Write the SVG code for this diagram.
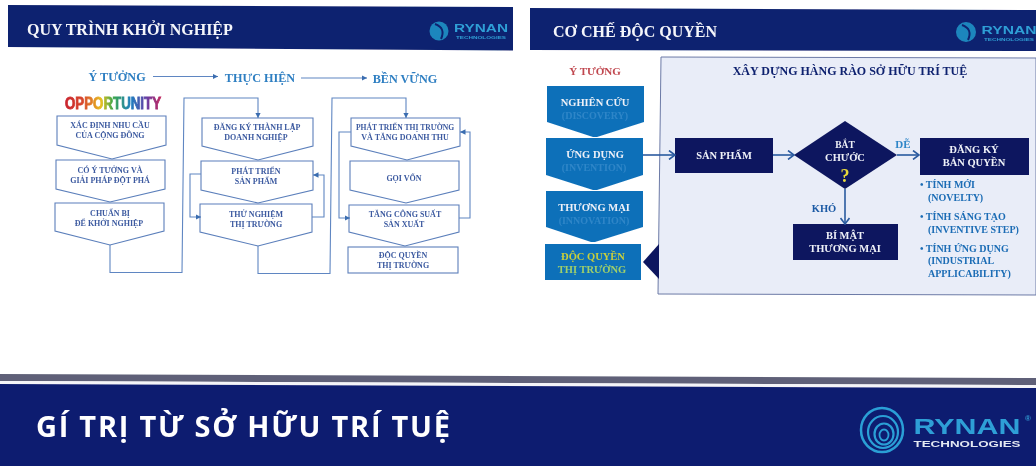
<svg xmlns="http://www.w3.org/2000/svg" width="1036" height="466" viewBox="0 0 1036 466">
<style>
text{font-family:"Liberation Serif","Noto Sans",serif;font-weight:bold;text-anchor:middle}
.hd{fill:#f4f6fb;font-size:16px;text-anchor:start}
.top{fill:#2f7fc2;font-size:12.200px}
.flow{fill:#fff;stroke:#5b7fbb;stroke-width:1.1}
.ft{fill:#3c5aa0;font-size:8px}
.lnk{fill:none;stroke:#5f86c2;stroke-width:1.1}
.lnk2{fill:none;stroke:#2a5a9f;stroke-width:1.6}
.nv{fill:#10185f}
.wt{fill:#eef1f8;font-size:10.500px}
.blue{fill:#0f70b9}
.sub{fill:#2f86c8;font-size:10px}
.bl{fill:#1b6cb5;font-size:10px;text-anchor:start}
.rn{font-family:"Liberation Sans",sans-serif;fill:#2f9fd6}
.sans{font-family:"Liberation Sans",sans-serif}
.title{font-family:"Open Sans","Liberation Sans",sans-serif;fill:#fff;font-size:29px}
.ring{fill:none;stroke:#2a9fd6}
</style>
<defs>
<marker id="a" markerWidth="6" markerHeight="6" refX="5" refY="3" orient="auto"><path d="M0,0.4 L5,3 L0,5.6Z" fill="#3a6db0"/></marker>
<marker id="o" markerWidth="8" markerHeight="10" refX="7" refY="5" orient="auto" markerUnits="userSpaceOnUse"><path d="M1,0.5 L7,5 L1,9.5" fill="none" stroke="#2a5a9f" stroke-width="1.6"/></marker>
<linearGradient id="rb" gradientUnits="userSpaceOnUse" x1="64" y1="0" x2="162" y2="0">
<stop offset="0" stop-color="#c8202e"/><stop offset="0.2" stop-color="#d8482a"/><stop offset="0.38" stop-color="#e8c020"/><stop offset="0.5" stop-color="#3aa648"/><stop offset="0.68" stop-color="#1f7fc0"/><stop offset="0.85" stop-color="#6a3aa0"/><stop offset="1" stop-color="#c8285a"/>
</linearGradient>
<filter id="soft" x="-2%" y="-2%" width="104%" height="104%"><feGaussianBlur stdDeviation="0.35"/></filter>
</defs>
<rect width="1036" height="466" fill="#fff"/>
<g filter="url(#soft)">

<g id="header-left">
<polygon points="8,5 513,7 513,50.500 8,47" fill="#10226f"/>
<text class="hd" x="27" y="35">QUY TRÌNH KHỞI NGHIỆP</text>
<circle cx="439" cy="31" r="9.500" fill="#1f86bd"/>
<path d="M435,24 Q446,28 441,39" fill="none" stroke="#10226f" stroke-width="2"/>
<text class="rn" x="481" y="32" font-size="11" textLength="54" lengthAdjust="spacingAndGlyphs">RYNAN</text>
<text class="rn" x="481" y="38.500" font-size="3.500" textLength="50" lengthAdjust="spacingAndGlyphs">TECHNOLOGIES</text>
</g>

<g id="header-right">
<polygon points="530,8 1036,10 1036,51 530,50" fill="#10226f"/>
<text class="hd" x="553" y="37">CƠ CHẾ ĐỘC QUYỀN</text>
<circle cx="966" cy="32" r="10" fill="#1f86bd"/>
<path d="M962,25 Q973,29 968,40" fill="none" stroke="#10226f" stroke-width="2"/>
<text class="rn" x="1009" y="34" font-size="11" textLength="55" lengthAdjust="spacingAndGlyphs">RYNAN</text>
<text class="rn" x="1009" y="40.500" font-size="3.500" textLength="50" lengthAdjust="spacingAndGlyphs">TECHNOLOGIES</text>
</g>

<g id="stage-labels">
<text class="top" x="117" y="81">Ý TƯỞNG</text>
<text class="top" x="260" y="82">THỰC HIỆN</text>
<text class="top" x="405" y="83">BỀN VỮNG</text>
<text class="sans" x="113" y="109" font-size="16" fill="url(#rb)" stroke="url(#rb)" stroke-width="0.8" textLength="96" lengthAdjust="spacingAndGlyphs">OPPORTUNITY</text>
</g>

<g id="f1-1"><polygon class="flow" points="57,116 166,116 166,145 112,159 57,145"/><text class="ft" x="110" y="128">XÁC ĐỊNH NHU CẦU</text><text class="ft" x="110" y="138">CỦA CỘNG ĐỒNG</text></g>
<g id="f1-2"><polygon class="flow" points="56,160 165,160 165,189 110,202 56,189"/><text class="ft" x="110" y="173">CÓ Ý TƯỞNG VÀ</text><text class="ft" x="110" y="183">GIẢI PHÁP ĐỘT PHÁ</text></g>
<g id="f1-3"><polygon class="flow" points="55,203 164,203 164,231 110,245 55,231"/><text class="ft" x="110" y="216">CHUẨN BỊ</text><text class="ft" x="109" y="226">ĐỂ KHỞI NGHIỆP</text></g>

<g id="f2-1"><polygon class="flow" points="202,118 313,118 313,146 258,160 202,146"/><text class="ft" x="257" y="130">ĐĂNG KÝ THÀNH LẬP</text><text class="ft" x="256" y="140">DOANH NGHIỆP</text></g>
<g id="f2-2"><polygon class="flow" points="201,161 313,161 313,190 258,203 201,190"/><text class="ft" x="256" y="174">PHÁT TRIỂN</text><text class="ft" x="256" y="184">SẢN PHẨM</text></g>
<g id="f2-3"><polygon class="flow" points="200,204 312,204 312,232 258,246 200,232"/><text class="ft" x="256" y="217">THỬ NGHIỆM</text><text class="ft" x="256" y="227">THỊ TRƯỜNG</text></g>

<g id="f3-1"><polygon class="flow" points="351,118 460,118 460,146 407,160 351,146"/><text class="ft" x="405" y="130" style="font-size:7.600px">PHÁT TRIỂN THỊ TRƯỜNG</text><text class="ft" x="405" y="140">VÀ TĂNG DOANH THU</text></g>
<g id="f3-2"><polygon class="flow" points="350,161 459,161 459,190 406,203 350,190"/><text class="ft" x="404" y="181">GỌI VỐN</text></g>
<g id="f3-3"><polygon class="flow" points="349,205 459,205 459,232 405,246 349,232"/><text class="ft" x="405" y="217">TĂNG CÔNG SUẤT</text><text class="ft" x="404" y="227">SẢN XUẤT</text></g>
<g id="f3-4"><rect class="flow" x="348" y="247" width="110" height="26"/><text class="ft" x="403" y="258">ĐỘC QUYỀN</text><text class="ft" x="403" y="268">THỊ TRƯỜNG</text></g>

<g id="panel">
<polygon points="661,57 1036,58 1036,295 658,294" fill="#e9edf8" stroke="#6c7aa6" stroke-width="1"/>
<text x="850" y="75" fill="#10226f" style="font-size:12px">XÂY DỰNG HÀNG RÀO SỞ HỮU TRÍ TUỆ</text>
<polygon class="nv" points="643,262 659,244 659,279"/>
</g>

<text x="595" y="75" fill="#c0474f" style="font-size:11px">Ý TƯỞNG</text>

<g id="s1"><polygon class="blue" points="547,86 644,86 644,122 597,137 593,137 547,122"/><text class="wt" x="595" y="106">NGHIÊN CỨU</text><text class="sub" x="595" y="119">(DISCOVERY)</text></g>
<g id="s2"><polygon class="blue" points="546,138 643,138 643,175 597,190 593,190 546,175"/><text class="wt" x="595" y="158">ỨNG DỤNG</text><text class="sub" x="594" y="171">(INVENTION)</text></g>
<g id="s3"><polygon class="blue" points="546,191 643,191 643,227 595,242 591,242 546,227"/><text class="wt" x="594" y="211">THƯƠNG MẠI</text><text class="sub" x="594" y="224">(INNOVATION)</text></g>
<g id="s4"><rect class="blue" x="545" y="244" width="96" height="36"/><text x="593" y="260" fill="#c9cf3a" style="font-size:10.500px">ĐỘC QUYỀN</text><text x="592" y="273" fill="#9fd06a" style="font-size:10.500px">THỊ TRƯỜNG</text></g>

<g id="san-pham"><rect class="nv" x="675" y="138" width="98" height="35"/><text class="wt" x="724" y="159">SẢN PHẨM</text></g>
<g id="bat-chuoc"><polygon class="nv" points="794,155 845,121 897,155 845,189"/><text class="wt" x="845" y="148" style="font-size:9.500px">BẮT</text><text class="wt" x="845" y="161">CHƯỚC</text><text x="845" y="182" fill="#e8d93a" style="font-size:18px">?</text></g>
<g id="dang-ky"><rect class="nv" x="920" y="138" width="109" height="37"/><text class="wt" x="974" y="153">ĐĂNG KÝ</text><text class="wt" x="974" y="166">BẢN QUYỀN</text></g>
<g id="bi-mat"><rect class="nv" x="793" y="224" width="105" height="36"/><text class="wt" x="845" y="239">BÍ MẬT</text><text class="wt" x="845" y="252">THƯƠNG MẠI</text></g>

<g id="connectors">
<path class="lnk" d="M153,76.500H218" marker-end="url(#a)"/>
<path class="lnk" d="M301,78H367" marker-end="url(#a)"/>
<path class="lnk" d="M110,245V272.500H182L184,98H258V118" marker-end="url(#a)"/>
<path class="lnk" d="M258,246V273.500H330L332,98H406V118" marker-end="url(#a)"/>
<path class="lnk" d="M201,174H190V217H201" marker-end="url(#a)"/>
<path class="lnk" d="M312,217H324V175H313" marker-end="url(#a)"/>
<path class="lnk" d="M351,132H339V218H350" marker-end="url(#a)"/>
<path class="lnk" d="M459,218H470V132H460" marker-end="url(#a)"/>
<path class="lnk2" d="M643,155H675" marker-end="url(#o)"/>
<path class="lnk2" d="M773,155H794" marker-end="url(#o)"/>
<path class="lnk2" d="M897,155H919" marker-end="url(#o)"/>
<path class="lnk2" d="M845,189V224" marker-end="url(#o)"/>
</g>

<text x="903" y="148" fill="#2f86c8" style="font-size:11px">DỄ</text>
<text x="824" y="212" fill="#1b5aa5" style="font-size:10.500px">KHÓ</text>

<g id="bullets">
<text class="bl" x="920" y="188">• TÍNH MỚI</text>
<text class="bl" x="928" y="201">(NOVELTY)</text>
<text class="bl" x="920" y="220">• TÍNH SÁNG TẠO</text>
<text class="bl" x="928" y="233">(INVENTIVE STEP)</text>
<text class="bl" x="920" y="252">• TÍNH ỨNG DỤNG</text>
<text class="bl" x="928" y="264">(INDUSTRIAL</text>
<text class="bl" x="928" y="277">APPLICABILITY)</text>
</g>

<g id="footer">
<polygon points="0,374 1036,378 1036,385 0,381" fill="#5f6178"/>
<polygon points="0,381 1036,385 1036,388 0,384" fill="#f4f4f8"/>
<polygon points="0,384 1036,388 1036,466 0,466" fill="#101c70"/>
<text class="title" x="243" y="437" textLength="414" lengthAdjust="spacing">GÍ TRỊ TỪ SỞ HỮU TRÍ TUỆ</text>
<ellipse class="ring" cx="882" cy="430" rx="21" ry="22" stroke-width="2.500"/>
<ellipse class="ring" cx="883" cy="432" rx="15" ry="16" stroke-width="2.200"/>
<ellipse class="ring" cx="884" cy="434" rx="9.500" ry="10.500" stroke-width="2.200"/>
<ellipse class="ring" cx="884" cy="435" rx="4.500" ry="5.500" stroke-width="1.800"/>
<text class="rn" x="967" y="433.500" font-size="22" textLength="107" lengthAdjust="spacingAndGlyphs">RYNAN</text>
<text class="sans" x="1028" y="421" fill="#2f9fd6" font-size="8" font-weight="normal">®</text>
<text class="sans" x="967" y="447" fill="#e2e8f2" font-size="8.500" textLength="107" lengthAdjust="spacingAndGlyphs">TECHNOLOGIES</text>
</g>
</g>
</svg>
